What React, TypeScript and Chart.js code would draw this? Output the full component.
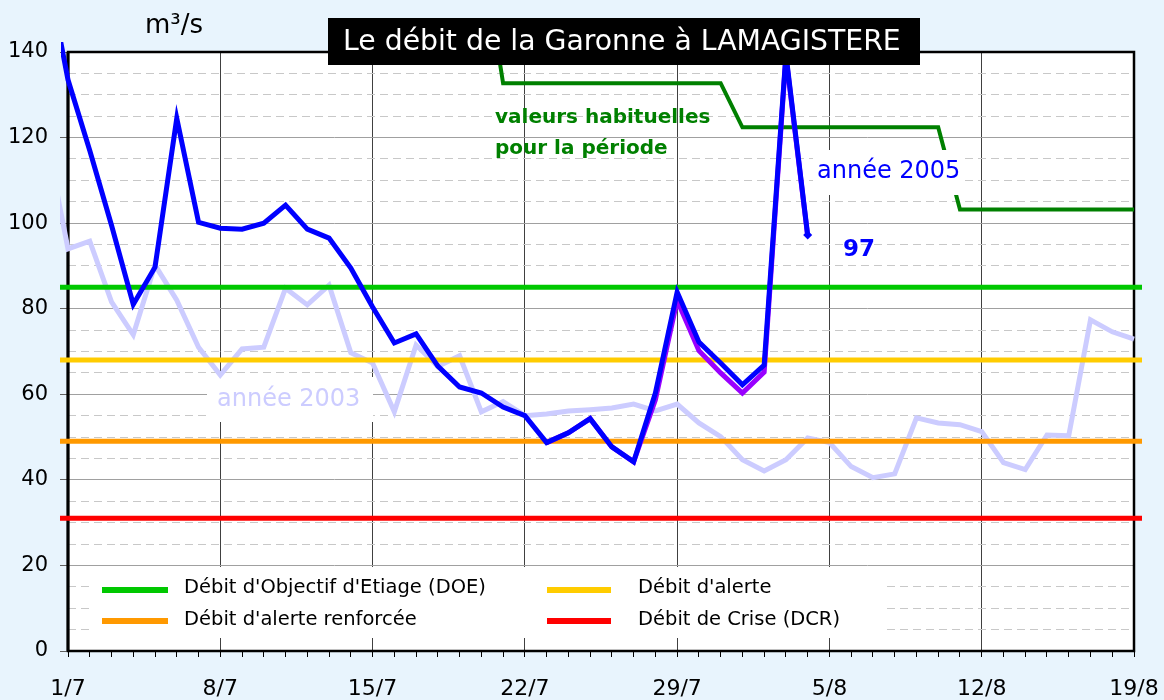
import React, { useEffect, useRef } from 'react';
import { Chart, registerables } from 'chart.js';

Chart.register(...registerables);

const FONT = "'DejaVu Sans', Verdana, sans-serif";

// x axis: day index 0 = 1/7 ... 49 = 19/8 ; arrays below start at day index -1 (30/6)
const FIRST_DAY = -1;
const dayLabels = ['1/7', '8/7', '15/7', '22/7', '29/7', '5/8', '12/8', '19/8'];
const yTickLabels = [0, 20, 40, 60, 80, 100, 120, 140];

// année 2005 (blue)
const debit2005 = [
  160, 133.5, 117, 99.5, 81, 89.7, 124.5, 100.2, 98.8, 98.6, 100, 104.2, 98.6, 96.5,
  89.5, 80.4, 72, 74.1, 66.6, 61.7, 60.3, 57, 55, 48.7, 51, 54.3, 47.7, 44.2,
  60.3, 83.9, 72.2, 67.3, 62.2, 66.8, 139.5, 97.2,
];

// année 2005 provisional values (purple, mostly hidden under the blue line)
const debit2005Provisoire = [
  null, null, null, null, null, null, null, null, null, null, null, null, null, null,
  null, null, null, null, null, null, null, null, null, 48.7, 51, 54.3, 47.7, 44.2,
  58.7, 82, 70.2, 65, 60.3, 65.2, 139, 97,
];

// année 2003 (lavender)
const debit2003 = [
  120, 94, 95.8, 81.6, 73.9, 90.2, 82, 71, 64.5, 70.6, 71, 84.8, 80.9, 85.5,
  69.7, 67.3, 55.9, 71.5, 66.5, 69, 55.9, 58.3, 55, 55.4, 56.1, 56.4, 56.8, 57.7,
  56.1, 57.7, 53.3, 50.1, 44.7, 42.1, 44.7, 49.8, 48.7, 43.1, 40.5, 41.4, 54.5, 53.3,
  52.9, 51.3, 44, 42.4, 50.5, 50.3, 77.4, 74.6, 72.9, 68,
];

// valeurs habituelles pour la période (dark green)
const valeursHabituelles = [
  null, null, null, null, null, null, null, null, null, null, null, null, null, null,
  null, null, null, null, null, null, 165, 132.7, 132.7, 132.7, 132.7, 132.7, 132.7, 132.7,
  132.7, 132.7, 132.7, 132.7, 122.4, 122.4, 122.4, 122.4, 122.4, 122.4, 122.4, 122.4, 122.4, 122.4,
  103.2, 103.2, 103.2, 103.2, 103.2, 103.2, 103.2, 103.2, 103.2, 103.2,
];

const thresholdNames = [
  "Débit d'Objectif d'Etiage (DOE)",
  "Débit d'alerte",
  "Débit d'alerte renforcée",
  'Débit de Crise (DCR)',
];
const thresholdValues = [85, 68, 49, 31];
const thresholdColors = ['#00c800', '#ffcc00', '#ff9900', '#ff0000'];
const thresholdSpan = [-1, 50];

const toPoints = (arr: (number | null)[]) =>
  arr.map((v, i) => ({ x: i + FIRST_DAY, y: v }));

const CLIP = { left: 8, top: 10, right: 8, bottom: 0 };

const decorPlugin = {
  id: 'decor',
  beforeDraw(chart: any) {
    const { ctx, chartArea: a } = chart;
    ctx.save();
    ctx.fillStyle = '#ffffff';
    ctx.fillRect(a.left, a.top, a.right - a.left, a.bottom - a.top);
    ctx.restore();
  },
  beforeDatasetsDraw(chart: any) {
    const { ctx, chartArea: a } = chart;
    ctx.save();
    // frame
    ctx.strokeStyle = '#000';
    ctx.lineWidth = 2.5;
    ctx.strokeRect(a.left, a.top, a.right - a.left, a.bottom - a.top);
    ctx.fillStyle = '#000';
    ctx.fillRect(a.left - 1.5, a.top, 3, a.bottom - a.top);

    // "année 2003" label
    ctx.fillStyle = '#ffffff';
    ctx.fillRect(207, 377, 166, 45);
    ctx.fillStyle = '#ccccff';
    ctx.font = `24px ${FONT}`;
    ctx.textBaseline = 'alphabetic';
    ctx.fillText('année 2003', 217, 406);

    // legend
    ctx.fillStyle = '#ffffff';
    ctx.fillRect(92, 567, 793, 71);
    const cols = [
      { x0: 102, x1: 168, tx: 184 },
      { x0: 547, x1: 611, tx: 638 },
    ];
    const rows = [{ ly: 590, ty: 593 }, { ly: 621, ty: 625 }];
    const layout = [
      [0, 0],
      [1, 0],
      [0, 1],
      [1, 1],
    ];
    ctx.font = `19.5px ${FONT}`;
    thresholdNames.forEach((name, k) => {
      const [c, r] = layout[k];
      const col = cols[c];
      const row = rows[r];
      ctx.strokeStyle = thresholdColors[k];
      ctx.lineWidth = 6;
      ctx.beginPath();
      ctx.moveTo(col.x0, row.ly);
      ctx.lineTo(col.x1, row.ly);
      ctx.stroke();
      ctx.fillStyle = '#000';
      ctx.fillText(name, col.tx, row.ty);
    });
    ctx.restore();
  },
  afterDatasetsDraw(chart: any) {
    const { ctx } = chart;
    ctx.save();
    ctx.textBaseline = 'alphabetic';
    // année 2005
    ctx.fillStyle = '#ffffff';
    ctx.fillRect(813, 150, 152, 45);
    ctx.fillStyle = '#0000ff';
    ctx.font = `24px ${FONT}`;
    ctx.fillText('année 2005', 817, 178);
    ctx.font = `bold 23px ${FONT}`;
    ctx.fillText('97', 843, 256);

    // valeurs habituelles
    ctx.fillStyle = '#008000';
    ctx.font = `bold 20px ${FONT}`;
    ctx.fillText('valeurs habituelles', 495, 123);
    ctx.fillText('pour la période', 495, 154);

    // m³/s
    ctx.fillStyle = '#000';
    ctx.font = `26px ${FONT}`;
    ctx.fillText('m³/s', 145, 33);

    // title
    ctx.fillStyle = '#000';
    ctx.fillRect(328, 18, 592, 47);
    ctx.fillStyle = '#ffffff';
    ctx.font = `28.3px ${FONT}`;
    ctx.fillText('Le débit de la Garonne à LAMAGISTERE', 343, 50);
    ctx.restore();
  },
};

export default function App() {
  const ref = useRef<HTMLCanvasElement | null>(null);

  useEffect(() => {
    if (!ref.current) return;
    const thresholdSets = thresholdValues.map((v, i) => ({
      label: thresholdNames[i],
      data: thresholdSpan.map((x) => ({ x, y: v })),
      borderColor: thresholdColors[i],
      borderWidth: 5,
      pointRadius: 0,
      clip: CLIP,
    }));
    const last2005 = debit2005.length - 1;
    const chart = new Chart(ref.current, {
      type: 'line',
      data: {
        datasets: [
          {
            label: 'année 2005',
            data: toPoints(debit2005),
            borderColor: '#0000ff',
            backgroundColor: '#0000ff',
            borderWidth: 5,
            pointStyle: 'rectRot',
            pointRadius: (c: any) => (c.dataIndex === last2005 ? 4.5 : 0),
            pointBorderWidth: 0,
            clip: { left: 7, top: 10, right: 8, bottom: 0 },
          },
          {
            label: 'année 2005 (provisoire)',
            data: toPoints(debit2005Provisoire),
            borderColor: '#9900ff',
            borderWidth: 5,
            pointRadius: 0,
            clip: CLIP,
          },
          {
            label: 'valeurs habituelles',
            data: toPoints(valeursHabituelles),
            borderColor: '#008000',
            borderWidth: 4,
            pointRadius: 0,
            clip: CLIP,
          },
          ...thresholdSets,
          {
            label: 'année 2003',
            data: toPoints(debit2003),
            borderColor: '#ccccff',
            borderWidth: 5,
            pointRadius: 0,
            clip: CLIP,
          },
        ],
      },
      options: {
        animation: false,
        responsive: false,
        devicePixelRatio: 1,
        layout: { padding: { top: 52, right: 30, bottom: 0, left: 0 } },
        plugins: { legend: { display: false }, tooltip: { enabled: false }, title: { display: false } },
        elements: { line: { tension: 0, fill: false } },
        scales: {
          x: {
            type: 'linear',
            position: 'bottom',
            min: 0,
            max: 49,
            ticks: {
              stepSize: 1,
              autoSkip: false,
              maxRotation: 0,
              minRotation: 0,
              padding: 19,
              color: '#000',
              font: { family: FONT, size: 22 },
              callback: (v: any) => (v % 7 === 0 ? dayLabels[v / 7] : ''),
            },
            grid: {
              color: (c: any) => (c.tick && c.tick.value % 7 === 0 ? '#404040' : 'rgba(0,0,0,0)'),
              tickColor: '#000',
              tickLength: 6,
              lineWidth: 1,
            },
            border: { display: false },
            afterFit: (s: any) => {
              s.height = 49;
              s.paddingLeft = 0;
              s.paddingRight = 0;
            },
          },
          y: {
            type: 'linear',
            position: 'left',
            min: 0,
            max: 140,
            ticks: {
              stepSize: 5,
              autoSkip: false,
              padding: 12,
              color: '#000',
              font: { family: FONT, size: 21 },
              callback: (v: any) => (yTickLabels.includes(v) ? String(v) : ''),
            },
            grid: {
              color: (c: any) => (c.tick && c.tick.value % 20 === 0 ? '#a0a0a0' : 'rgba(0,0,0,0)'),
              tickColor: (c: any) => (c.tick && c.tick.value % 20 === 0 ? '#606060' : 'rgba(0,0,0,0)'),
              tickLength: 8,
              lineWidth: 1,
            },
            border: { display: false },
            afterFit: (s: any) => {
              s.width = 68;
              s.paddingTop = 0;
              s.paddingBottom = 0;
            },
          },
          yd: {
            type: 'linear',
            position: 'left',
            min: 0,
            max: 140,
            ticks: { display: false, stepSize: 5, autoSkip: false },
            grid: {
              drawTicks: false,
              color: (c: any) => (c.tick && c.tick.value % 20 !== 0 ? '#c8c8c8' : 'rgba(0,0,0,0)'),
              lineWidth: 1,
            },
            border: { display: false, dash: [8, 5] },
            afterFit: (s: any) => {
              s.width = 0;
              s.paddingTop = 0;
              s.paddingBottom = 0;
            },
          },
        },
      },
      plugins: [decorPlugin],
    } as any);
    return () => chart.destroy();
  }, []);

  return (
    <div
      style={{
        position: 'fixed',
        left: 0,
        top: 0,
        width: 1164,
        height: 700,
        background: '#e8f4fd',
      }}
    >
      <canvas ref={ref} width={1164} height={700} style={{ display: 'block' }} />
    </div>
  );
}
